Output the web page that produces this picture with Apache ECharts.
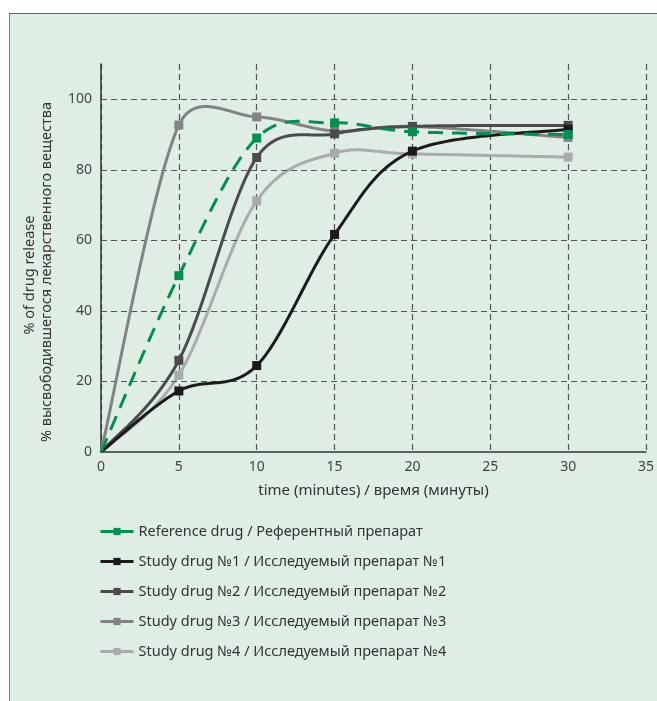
<!DOCTYPE html>
<html><head><meta charset="utf-8">
<script src="https://cdn.jsdelivr.net/npm/echarts@6/dist/echarts.min.js"></script>
<style>
html,body{margin:0;padding:0;background:#fff;width:657px;height:701px;overflow:hidden;}
#box{position:absolute;left:9px;top:13px;width:660px;height:700px;background:#e0ede4;border-top:1.5px solid #1e8a58;border-left:1.5px solid #3aa877;}
#chart{position:absolute;left:0;top:0;width:657px;height:701px;}
</style></head>
<body><div id="box"></div><div id="chart"></div>
<script>
const times = [0, 5, 10, 15, 20, 30];
const reference = [0, 50, 89, 93.3, 90.8, 90];
const study1 = [0, 17.3, 24.5, 61.7, 85.3, 91.5];
const study2 = [0, 26, 83.5, 90.2, 92.3, 92.6];
const study3 = [0, 92.7, 95, 91, 92.3, 89.2];
const study4 = [0, 21.8, 71.2, 84.7, 84.5, 83.6];
const yTicks = [20, 40, 60, 80, 100];
const names = [
  'Reference drug / Референтный препарат',
  'Study drug №1 / Исследуемый препарат №1',
  'Study drug №2 / Исследуемый препарат №2',
  'Study drug №3 / Исследуемый препарат №3',
  'Study drug №4 / Исследуемый препарат №4'
];
const yName1 = '% of drug release';
const yName2 = '% высвободившегося лекарственного вещества';
const xName = 'time (minutes) / время (минуты)';

const FONT = '"Noto Sans", sans-serif';
const colors = ['#00904f', '#1c1a1a', '#4b4b4b', '#838383', '#ababab'];
const allData = [reference, study1, study2, study3, study4];
const curveZ = [8, 7, 6, 5, 4];

function dist(a, b) { return Math.hypot(b[0] - a[0], b[1] - a[1]); }
// Excel-like smoothing (Catmull-Rom Bezier with tangent length limited to half segment)
function smoothPath(p) {
  const out = [p[0]];
  const n = p.length;
  for (let i = 0; i < n - 1; i++) {
    const p0 = p[Math.max(i - 1, 0)], p1 = p[i], p2 = p[i + 1], p3 = p[Math.min(i + 2, n - 1)];
    const d12 = dist(p1, p2), d02 = dist(p0, p2), d13 = dist(p1, p3);
    let f1 = 1 / 6, f2 = 1 / 6;
    if (d02 / 6 > d12 / 2 && d02 > 0) f1 = d12 / 2 / d02;
    if (d13 / 6 > d12 / 2 && d13 > 0) f2 = d12 / 2 / d13;
    const c1 = [p1[0] + (p2[0] - p0[0]) * f1, p1[1] + (p2[1] - p0[1]) * f1];
    const c2 = [p2[0] - (p3[0] - p1[0]) * f2, p2[1] - (p3[1] - p1[1]) * f2];
    const N = 40;
    for (let s = 1; s <= N; s++) {
      const t = s / N, u = 1 - t;
      const a = u*u*u, b = 3*u*u*t, c = 3*u*t*t, d = t*t*t;
      out.push([a*p1[0] + b*c1[0] + c*c2[0] + d*p2[0], a*p1[1] + b*c1[1] + c*c2[1] + d*p2[1]]);
    }
  }
  return out;
}

const series = [];
allData.forEach((vals, k) => {
  series.push({
    name: names[k],
    type: 'line',
    data: times.map((t, i) => i === 0 ? {value: [t, vals[i]], symbol: 'none'} : [t, vals[i]]),
    symbol: 'rect',
    symbolSize: 9,
    z: 10 + (k === 0 ? 5 : 4 - k),
    lineStyle: {color: colors[k], width: 3, opacity: 0},
    itemStyle: {color: colors[k]},
    emphasis: {disabled: true},
    animation: false
  });
});
allData.forEach((vals, k) => {
  series.push({
    name: names[k],
    type: 'custom',
    data: times.map((t, i) => [t, vals[i]]),
    encode: {x: 0, y: 1},
    z: curveZ[k],
    silent: true,
    animation: false,
    renderItem: function (params, api) {
      if (params.dataIndex !== 0) return null;
      const px = times.map((t, i) => api.coord([t, vals[i]]));
      return {
        type: 'polyline',
        shape: {points: smoothPath(px), smooth: 0},
        style: {
          stroke: colors[k], fill: 'none', lineWidth: 3,
          lineDash: k === 0 ? [15, 9] : null, lineCap: 'butt', lineJoin: 'round'
        }
      };
    }
  });
});
series.push({
  type: 'line', data: [], silent: true, animation: false,
  markLine: {
    silent: true, symbol: 'none', label: {show: false},
    lineStyle: {color: '#555', type: [6, 4], width: 1.2},
    data: yTicks.map(v => ({yAxis: v}))
  }
});

const chart = echarts.init(document.getElementById('chart'), null, {renderer: 'canvas'});
chart.setOption({
  backgroundColor: 'transparent',
  animation: false,
  grid: {left: 101, right: 10, top: 64, bottom: 249, containLabel: false},
  legend: {
    data: names, orient: 'vertical', left: 99, top: 524, padding: 0,
    itemWidth: 33, itemHeight: 9, itemGap: 15,
    lineStyle: {type: 'solid', width: 3, opacity: 1},
    textStyle: {fontFamily: FONT, fontSize: 14.5, color: '#333', lineHeight: 14},
    selectedMode: false
  },
  xAxis: {
    type: 'value', min: 0, max: 35, interval: 5,
    name: xName, nameLocation: 'middle', nameGap: 31,
    nameTextStyle: {fontFamily: FONT, fontSize: 15, color: '#333'},
    axisLine: {show: true, lineStyle: {color: '#333', width: 1.5}},
    axisTick: {show: false},
    axisLabel: {fontFamily: FONT, fontSize: 14, color: '#444', margin: 8},
    splitLine: {show: true, lineStyle: {color: '#555', type: [6, 4], width: 1.2}}
  },
  yAxis: {
    type: 'value', min: 0, max: 110, interval: 20,
    axisLine: {show: true, lineStyle: {color: '#333', width: 1.5}},
    axisTick: {show: false},
    axisLabel: {fontFamily: FONT, fontSize: 14, color: '#444', margin: 9,
      formatter: v => (v > 100 ? '' : String(v))},
    splitLine: {show: false}
  },
  graphic: [
    {type: 'text', x: 30, y: 275, rotation: Math.PI/2,
      style: {text: yName1, font: '14.5px ' + FONT, fill: '#333', align: 'center', verticalAlign: 'middle'}},
    {type: 'text', x: 47, y: 272, rotation: Math.PI/2,
      style: {text: yName2, font: '14.5px ' + FONT, fill: '#333', align: 'center', verticalAlign: 'middle'}}
  ],
  series: series
});
</script></body></html>
